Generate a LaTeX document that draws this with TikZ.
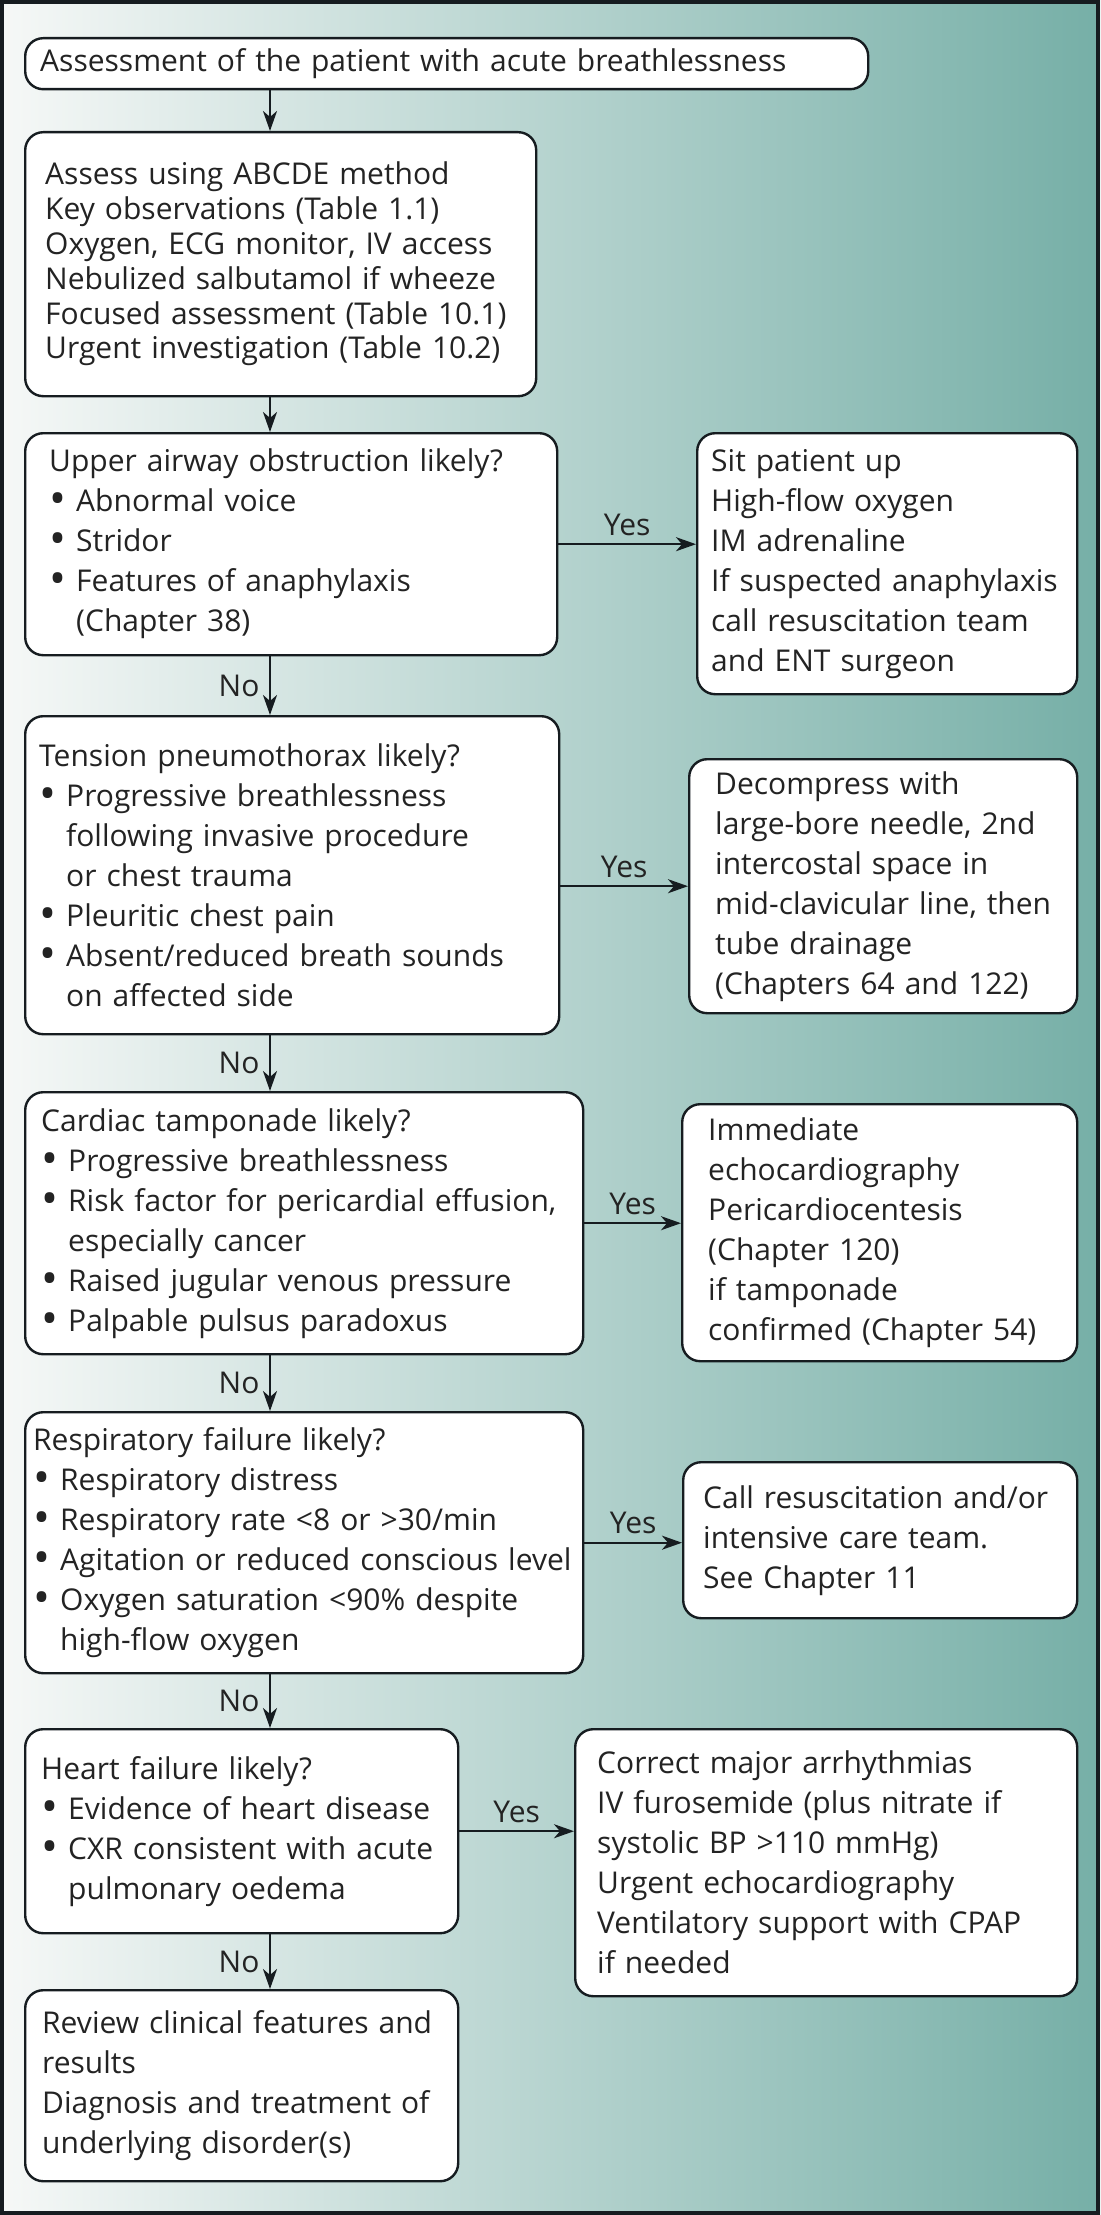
\documentclass[tikz,border=0pt]{standalone}
\usepackage{fontspec}
\setmainfont{Open Sans}
\usetikzlibrary{arrows.meta}
\definecolor{bgleft}{RGB}{246,248,247}
\definecolor{bgright}{RGB}{118,175,167}
\definecolor{frame}{RGB}{22,28,32}
\definecolor{ink}{RGB}{35,35,35}
\newcommand{\bul}{\makebox[27pt][l]{\raisebox{-0.1em}{\scalebox{1.5}{\textbullet}}}}
\newcommand{\ind}{\hspace*{27pt}}

\begin{document}
\begin{tikzpicture}[x=1pt,y=-1pt,
  box/.style 2 args={draw=frame, line width=2.4pt, rounded corners=18pt, fill=white, anchor=north west,
    align=left, text=ink, text width=#1, minimum height=#2, inner ysep=0pt, font=\fontsize{30}{40}\selectfont},
  arr/.style={draw=frame, line width=2.4pt, -{Stealth[length=20pt,width=14pt,inset=6pt]}},
  lbl/.style={text=ink, font=\fontsize{30}{36}\selectfont}]
  \useasboundingbox (0,0) rectangle (1100,2215);
  \shade[left color=bgleft, right color=bgright] (0,0) rectangle (1100,2215);
  \draw[frame, line width=4pt] (2,2) rectangle (1098,2213);
  \coordinate (spine) at (270,0);

  \node (start) at (24,37) [box={813pt}{51pt}, inner xsep=15pt] {Assessment of the patient with acute breathlessness};
  \node (abcde) at (24,131) [box={471pt}{264pt}, inner xsep=20pt, font=\fontsize{30}{34.8}\selectfont]
    {Assess using ABCDE method\\Key observations (Table 1.1)\\Oxygen, ECG monitor, IV access\\Nebulized salbutamol if wheeze\\Focused assessment (Table 10.1)\\Urgent investigation (Table 10.2)};

  \node (airway) at (24,432) [box={484pt}{222pt}, inner xsep=24pt]
    {Upper airway obstruction likely?\\\bul Abnormal voice\\\bul Stridor\\\bul Features of anaphylaxis\\\ind(Chapter 38)};
  \node (airwayyes) at (696,432) [box={352pt}{261pt}, inner xsep=14pt]
    {Sit patient up\\High-flow oxygen\\IM adrenaline\\If suspected anaphylaxis\\call resuscitation team\\and ENT surgeon};

  \node (tension) at (24,715) [box={506pt}{318pt}, inner xsep=14pt]
    {Tension pneumothorax likely?\\\bul Progressive breathlessness\\\ind following invasive procedure\\\ind or chest trauma\\\bul Pleuritic chest pain\\\bul Absent/reduced breath sounds\\\ind on affected side};
  \node (tensionyes) at (688,758) [box={336pt}{254pt}, inner xsep=26pt]
    {Decompress with\\large-bore needle, 2nd\\intercostal space in\\mid-clavicular line, then\\tube drainage\\(Chapters 64 and 122)};

  \node (cardiac) at (24,1091) [box={526pt}{262pt}, inner xsep=16pt]
    {Cardiac tamponade likely?\\\bul Progressive breathlessness\\\bul Risk factor for pericardial effusion,\\\ind especially cancer\\\bul Raised jugular venous pressure\\\bul Palpable pulsus paradoxus};
  \node (cardiacyes) at (681,1103) [box={343pt}{257pt}, inner xsep=26pt]
    {Immediate\\echocardiography\\Pericardiocentesis\\(Chapter 120)\\if tamponade\\confirmed (Chapter 54)};

  \node (resp) at (24,1411) [box={542pt}{261pt}, inner xsep=8pt]
    {Respiratory failure likely?\\\bul Respiratory distress\\\bul Respiratory rate <8 or >30/min\\\bul Agitation or reduced conscious level\\\bul Oxygen saturation <90\% despite\\\ind high-flow oxygen};
  \node (respyes) at (682,1461) [box={354pt}{156pt}, inner xsep=20pt]
    {Call resuscitation and/or\\intensive care team.\\See Chapter 11};

  \node (heart) at (24,1728) [box={401pt}{204pt}, inner xsep=16pt]
    {Heart failure likely?\\\bul Evidence of heart disease\\\bul CXR consistent with acute\\\ind pulmonary oedema};
  \node (heartyes) at (574,1728) [box={458pt}{267pt}, inner xsep=22pt]
    {Correct major arrhythmias\\IV furosemide (plus nitrate if\\systolic BP >110 mmHg)\\Urgent echocardiography\\Ventilatory support with CPAP\\if needed};

  \node (review) at (24,1989) [box={399pt}{191pt}, inner xsep=17pt]
    {Review clinical features and\\results\\Diagnosis and treatment of\\underlying disorder(s)};

  \draw[arr] (start.south -| spine) -- (abcde.north -| spine);
  \draw[arr] (abcde.south -| spine) -- (airway.north -| spine);
  \draw[arr] (airway.south -| spine) -- node[lbl, left=6pt] {No} (tension.north -| spine);
  \draw[arr] (tension.south -| spine) -- node[lbl, left=6pt] {No} (cardiac.north -| spine);
  \draw[arr] (cardiac.south -| spine) -- node[lbl, left=6pt] {No} (resp.north -| spine);
  \draw[arr] (resp.south -| spine) -- node[lbl, left=6pt] {No} (heart.north -| spine);
  \draw[arr] (heart.south -| spine) -- node[lbl, left=6pt] {No} (review.north -| spine);

  \draw[arr] (airway.east) -- node[lbl, above=4pt] {Yes} (airway.east -| airwayyes.west);
  \draw[arr] (tensionyes.west -| tension.east) -- node[lbl, above=4pt] {Yes} (tensionyes.west);
  \draw[arr] (cardiac.east) -- node[lbl, above=4pt] {Yes} (cardiac.east -| cardiacyes.west);
  \draw[arr] (resp.east) -- node[lbl, above=4pt] {Yes} (resp.east -| respyes.west);
  \draw[arr] (heart.east) -- node[lbl, above=4pt] {Yes} (heart.east -| heartyes.west);
\end{tikzpicture}
\end{document}
